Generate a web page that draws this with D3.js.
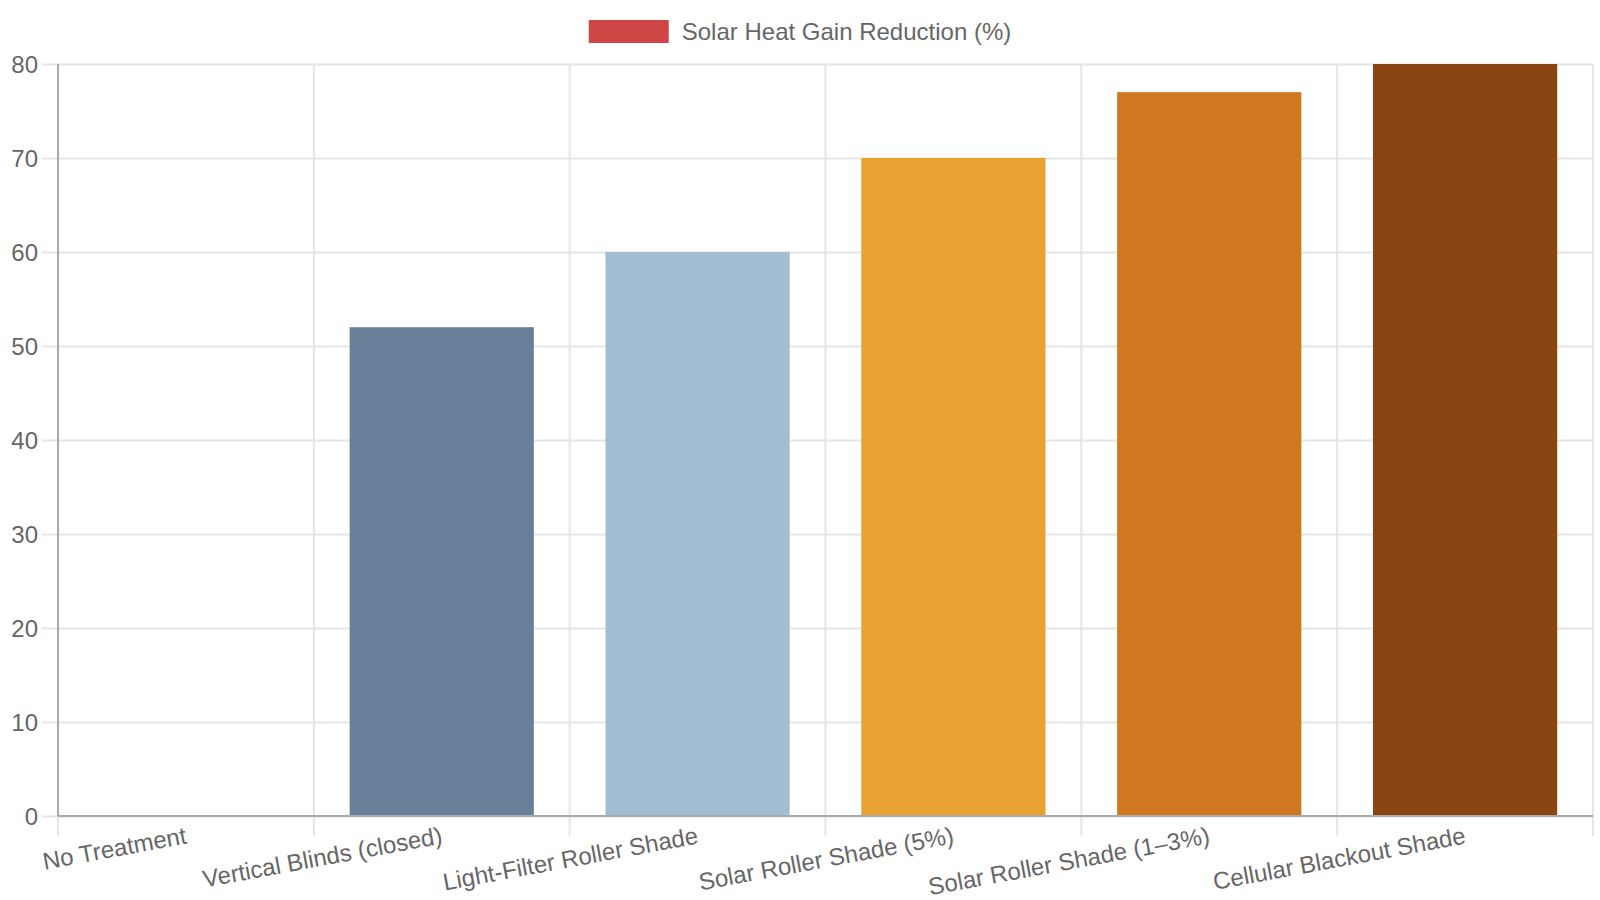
<!DOCTYPE html>
<html lang="en">
    <head>
        <meta charset="UTF-8">
        <title>Solar Heat Gain Reduction</title>
        <style>
            body {
                margin: 0;
                background: #fff;
            }
            svg text {
                font-family: "Liberation Sans", Arial, Helvetica, sans-serif;
                fill: #666;
            }
        </style>
    </head>
    <body>

        <script src="https://d3js.org/d3.v7.min.js"></script>
        <script>

            const categories = ["No Treatment", "Vertical Blinds (closed)", "Light-Filter Roller Shade",
                "Solar Roller Shade (5%)", "Solar Roller Shade (1\u20133%)", "Cellular Blackout Shade"];
            const values = [0, 52, 60, 70, 77, 80];
            const barColors = ["#cf4646", "#6a7f99", "#a2bcd1", "#e8a133", "#d07820", "#8b4513"];
            const yTicks = [0, 10, 20, 30, 40, 50, 60, 70, 80];
            const seriesName = "Solar Heat Gain Reduction (%)";

            const svgWidth = 1600;
            const svgHeight = 900;
            const plotLeft = 58, plotRight = 1593, plotTop = 64, plotBottom = 816;

            const svg = d3.select("body").append("svg")
            .attr("width", svgWidth)
            .attr("height", svgHeight);

            const x = d3.scaleBand()
            .domain(categories)
            .range([plotLeft, plotRight])
            .paddingInner(0.28)
            .paddingOuter(0.14);

            const y = d3.scaleLinear()
            .domain([0, 80])
            .range([plotBottom, plotTop]);

            // horizontal grid + y labels
            const yAxis = svg.append("g")
            .attr("transform", `translate(${plotLeft},0)`)
            .call(d3.axisLeft(y).tickValues(yTicks).tickSize(-(plotRight - plotLeft)).tickPadding(0));
            yAxis.select(".domain").remove();
            yAxis.selectAll(".tick line")
            .attr("x1", -16)
            .attr("stroke", "#e5e5e5")
            .attr("stroke-width", 2);
            yAxis.selectAll(".tick text")
            .attr("x", -20)
            .attr("font-size", 24)
            .attr("dy", "0.35em");

            // vertical grid at category boundaries
            const bounds = d3.range(categories.length + 1).map(i => plotLeft + i * x.step());
            svg.append("g").selectAll("line")
            .data(bounds)
            .enter()
            .append("line")
            .attr("x1", d => d)
            .attr("x2", d => d)
            .attr("y1", plotTop)
            .attr("y2", plotBottom + 20)
            .attr("stroke", "#e5e5e5")
            .attr("stroke-width", 2);

            // bars
            svg.append("g").selectAll("rect")
            .data(values)
            .enter()
            .append("rect")
            .attr("x", (d, i) => x(categories[i]))
            .attr("y", d => y(d))
            .attr("width", x.bandwidth())
            .attr("height", d => plotBottom - y(d))
            .attr("fill", (d, i) => barColors[i]);

            // axis lines
            svg.append("line")
            .attr("x1", plotLeft).attr("x2", plotLeft)
            .attr("y1", plotTop).attr("y2", plotBottom)
            .attr("stroke", "#aaa")
            .attr("stroke-width", 2);
            svg.append("line")
            .attr("x1", plotLeft).attr("x2", plotRight)
            .attr("y1", plotBottom).attr("y2", plotBottom)
            .attr("stroke", "#aaa")
            .attr("stroke-width", 2);

            // x labels, rotated
            const xAxis = svg.append("g")
            .attr("transform", `translate(0,${plotBottom})`)
            .call(d3.axisBottom(x).tickSize(0));
            xAxis.select(".domain").remove();
            xAxis.selectAll(".tick text")
            .attr("y", 0)
            .attr("dy", "0.35em")
            .attr("font-size", 24)
            .attr("text-anchor", "end")
            .attr("transform", "translate(0,19) rotate(-10.5)");

            // legend
            const legend = svg.append("g");
            legend.append("rect")
            .attr("width", 80)
            .attr("height", 23)
            .attr("fill", barColors[0]);
            const legendText = legend.append("text")
            .attr("x", 93)
            .attr("y", 11.5)
            .attr("dy", "0.35em")
            .attr("font-size", 24)
            .text(seriesName);
            const legendWidth = 93 + legendText.node().getComputedTextLength();
            legend.attr("transform", `translate(${(svgWidth - legendWidth) / 2},20)`);
        </script>
    </body>
</html>
